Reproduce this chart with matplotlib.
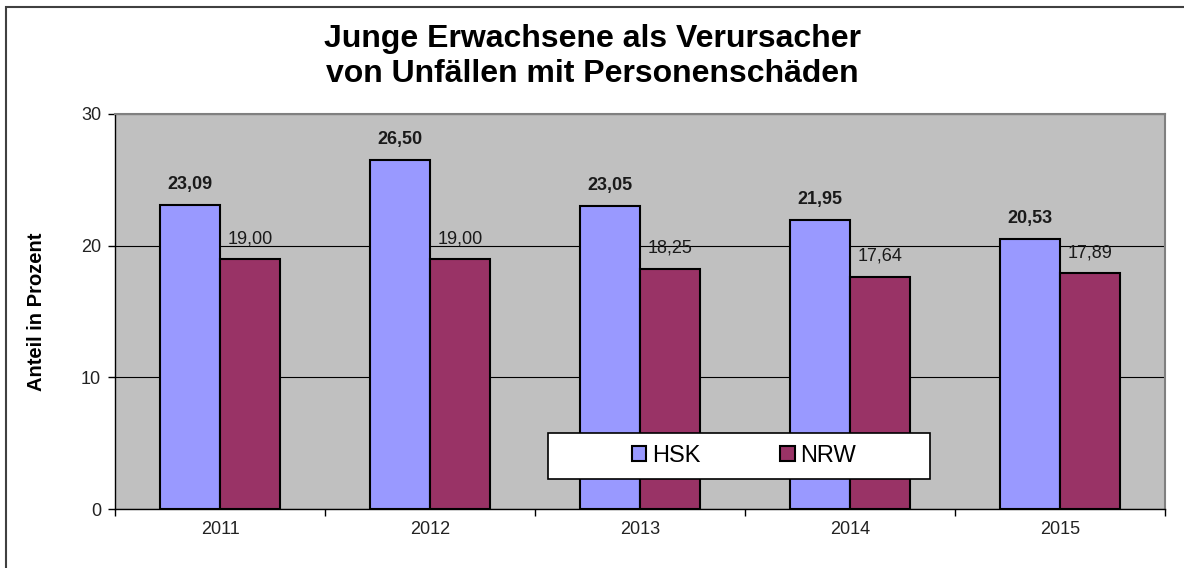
import matplotlib.pyplot as plt
from matplotlib.patches import Rectangle
import numpy as np

plt.rcParams['font.family'] = ['Liberation Sans', 'DejaVu Sans']

years = ['2011', '2012', '2013', '2014', '2015']
hsk = [23.09, 26.50, 23.05, 21.95, 20.53]
nrw = [19.00, 19.00, 18.25, 17.64, 17.89]

W, H = 1184, 568
fig = plt.figure(figsize=(W / 100, H / 100), dpi=100)
ax = fig.add_axes([115 / W, 1 - 509 / H, 1050 / W, (509 - 114) / H])

# outer frame of the chart
fig.patches.append(Rectangle((6 / W, -0.1), 1.2, 1 - 7 / H + 0.1, transform=fig.transFigure,
                             fill=False, edgecolor='#404040', linewidth=1.5))

x = np.arange(len(years))
bw = 0.2857
b1 = ax.bar(x - bw / 2, hsk, bw, color='#9999FF', edgecolor='black', linewidth=1.5, label='HSK', zorder=3)
b2 = ax.bar(x + bw / 2, nrw, bw, color='#993366', edgecolor='black', linewidth=1.5, label='NRW', zorder=3)

for rect, v in zip(b1, hsk):
    ax.annotate(f'{v:.2f}'.replace('.', ','), (rect.get_x() + rect.get_width() / 2, v),
                xytext=(0, 8.5), textcoords='offset points', ha='center', va='bottom',
                fontsize=13, fontweight='bold', color='#1a1a1a')
for rect, v in zip(b2, nrw):
    ax.annotate(f'{v:.2f}'.replace('.', ','), (rect.get_x() + rect.get_width() / 2, v),
                xytext=(0, 8.5), textcoords='offset points', ha='center', va='bottom',
                fontsize=13, color='#1a1a1a')

ax.set_facecolor('#C0C0C0')
ax.set_xlim(-0.5, len(years) - 0.5)
ax.set_ylim(0, 30)
ax.set_yticks([0, 10, 20, 30])
ax.yaxis.grid(True, color='black', linewidth=0.8, zorder=1)
ax.set_axisbelow(True)
ax.set_xticks(x)
ax.set_xticklabels(years)
ax.set_xticks(np.arange(-0.5, len(years)), minor=True)
ax.tick_params(axis='x', which='major', length=0, pad=9, labelsize=13, labelcolor='#222222')
ax.tick_params(axis='x', which='minor', length=5, width=1, direction='out')
ax.tick_params(axis='y', length=5, width=1, labelsize=13, labelcolor='#222222', pad=5)

for s in ['top', 'right']:
    ax.spines[s].set_color('#808080')
    ax.spines[s].set_linewidth(1.5)
for s in ['left', 'bottom']:
    ax.spines[s].set_color('black')
    ax.spines[s].set_linewidth(1.0)

ax.set_ylabel('Anteil in Prozent', fontsize=14.5, fontweight='bold', labelpad=25)

fig.text(592 / W, 1 - 47 / H, 'Junge Erwachsene als Verursacher', ha='center', va='baseline',
         fontsize=23, fontweight='bold')
fig.text(592 / W, 1 - 82 / H, 'von Unfällen mit Personenschäden', ha='center', va='baseline',
         fontsize=23, fontweight='bold')

# legend box
fig.patches.append(Rectangle((548 / W, 1 - 479 / H), 382 / W, 46 / H, transform=fig.transFigure,
                             facecolor='white', edgecolor='black', linewidth=1.2, zorder=5))
leg = fig.legend(handles=[b1, b2], labels=['HSK', 'NRW'], loc='center',
                 bbox_to_anchor=(744 / W, 1 - 456 / H), ncol=2, frameon=False,
                 fontsize=17, handlelength=0.6, handleheight=0.6, handletextpad=0.25,
                 columnspacing=3.4)
leg.set_zorder(6)

fig.savefig('out.png', dpi=100)
